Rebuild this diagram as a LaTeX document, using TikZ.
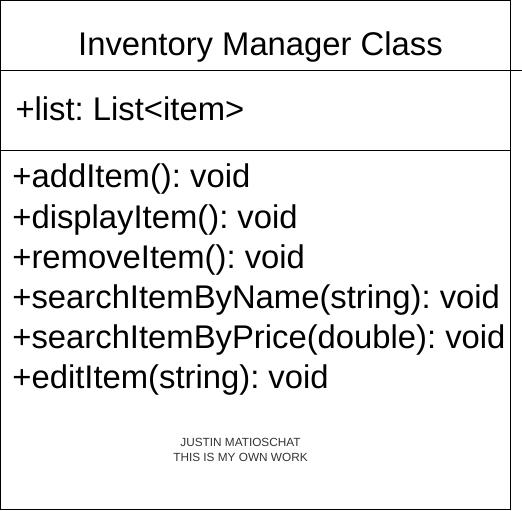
\documentclass[tikz,border=0pt]{standalone}
\usepackage{fontspec}
\setmainfont{Liberation Sans}
\frenchspacing

\begin{document}
\begin{tikzpicture}
  [x=1bp, y=-1bp,
   every node/.style={inner sep=0pt, outer sep=0pt},
   big/.style={font=\fontsize{32.8bp}{40bp}\selectfont},
   member/.style={big, anchor=base west},
   note/.style={font=\fontsize{11.8bp}{15bp}\selectfont, text=black!80, anchor=base},
   frame/.style={line width=1.3bp}]
  \useasboundingbox (0,0) rectangle (522,511);
  % class box
  \draw[frame] (0.75,0.75) rectangle (510.6,509.4);
  \coordinate (top-l) at (0.75,70.8);
  \coordinate (top-r) at (522,70.8);
  \coordinate (mid-l) at (0.75,150.5);
  \coordinate (mid-r) at (510.6,150.5);
  \draw[frame] (top-l) -- (top-r);
  \draw[frame] (mid-l) -- (mid-r);
  % name and fields
  \node[big, anchor=base] (title) at (260.5,55.7) {Inventory Manager Class};
  \node[member] (list) at (15.5,121) {+list: List<item>};
  % methods
  \foreach \txt [count=\i] in {{+addItem(): void},
                               {+displayItem(): void},
                               {+removeItem(): void},
                               {+searchItemByName(string): void},
                               {+searchItemByPrice(double): void},
                               {+editItem(string): void}}
    \node[member] (m\i) at (12.4,148+40*\i) {\txt};
  % signature
  \node[note] (who) at (240.5,446.5) {JUSTIN MATIOSCHAT};
  \node[note] (own) at (240.5,461.5) {THIS IS MY OWN WORK};
\end{tikzpicture}
\end{document}
